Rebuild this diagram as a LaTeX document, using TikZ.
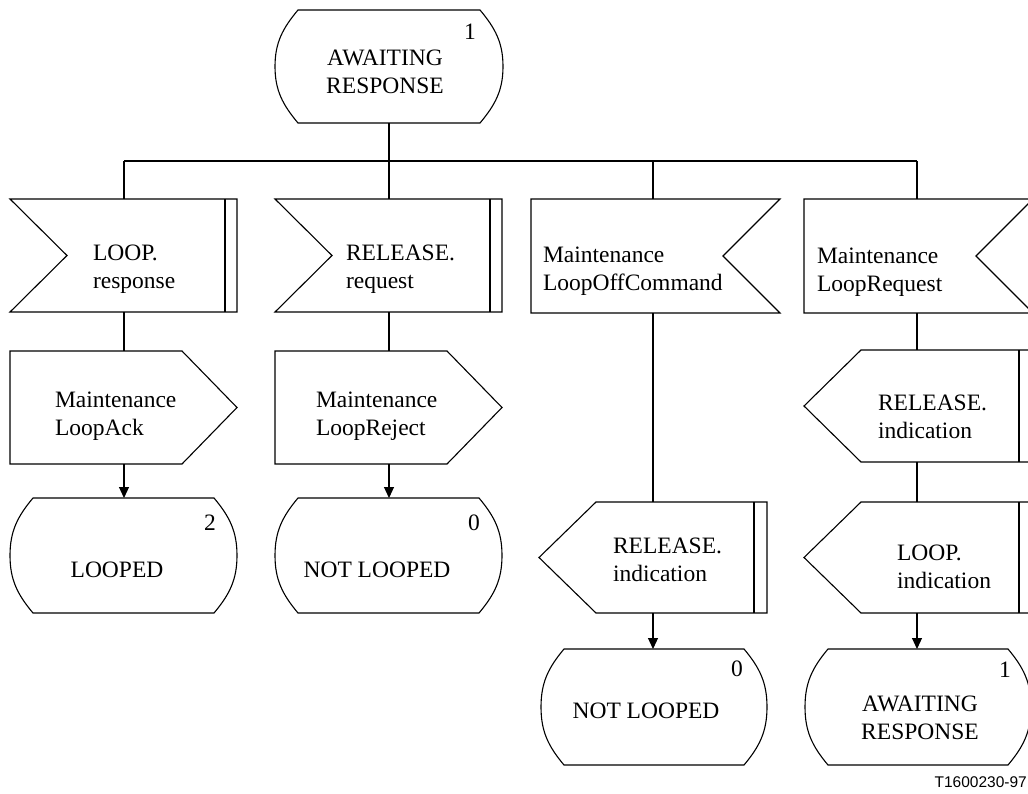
\documentclass[tikz,border=0pt]{standalone}
\usepackage{fontspec}
\setmainfont{Liberation Serif}
\newfontfamily\labelfont{Liberation Sans}
\usetikzlibrary{calc,fit,arrows.meta}

\newcommand\twol[2]{\begin{tabular}[t]{@{}l@{}}#1\\#2\end{tabular}}
\newcommand\twoc[2]{\begin{tabular}[t]{@{}c@{}}#1\\#2\end{tabular}}

\newcommand\shpState[1]{%
 \draw[shp] ($(#1.north west)+(23pt,0pt)$) -- ($(#1.north east)+(-23pt,0pt)$)
   to[out=-50,in=90] (#1.east) to[out=-90,in=50] ($(#1.south east)+(-23pt,0pt)$)
   -- ($(#1.south west)+(23pt,0pt)$) to[out=130,in=-90] (#1.west)
   to[out=90,in=-130] ($(#1.north west)+(23pt,0pt)$) -- cycle;}
\newcommand\shpInL[1]{%
 \draw[shp] (#1.north west) -- (#1.north east) -- (#1.south east) -- (#1.south west)
   -- ($(#1.west)+(57pt,0pt)$) -- cycle;
 \draw[shp] ($(#1.north east)+(-12pt,0pt)$) -- ($(#1.south east)+(-12pt,0pt)$);}
\newcommand\shpInR[1]{%
 \draw[shp] (#1.north west) -- (#1.north east) -- ($(#1.east)+(-57pt,0pt)$)
   -- (#1.south east) -- (#1.south west) -- cycle;}
\newcommand\shpOutR[1]{%
 \draw[shp] (#1.north west) -- ($(#1.north east)+(-55pt,0pt)$) -- (#1.east)
   -- ($(#1.south east)+(-55pt,0pt)$) -- (#1.south west) -- cycle;}
\newcommand\shpOutL[1]{%
 \draw[shp] (#1.west) -- ($(#1.north west)+(57pt,0pt)$) -- (#1.north east)
   -- (#1.south east) -- ($(#1.south west)+(57pt,0pt)$) -- cycle;
 \draw[shp] ($(#1.north east)+(-13pt,0pt)$) -- ($(#1.south east)+(-13pt,0pt)$);}

\begin{document}
\begin{tikzpicture}[x=1pt,y=-1pt,
  font=\fontsize{23.5}{28}\selectfont,
  box/.style={inner sep=0pt,outer sep=0pt,draw=none},
  shp/.style={line width=1.1pt,line join=miter},
  ln/.style={line width=1.1pt},
  arr/.style={line width=1.1pt,-{Triangle[length=11pt,width=10pt]}},
  txt/.style={inner sep=0pt,outer sep=0pt,anchor=base west},
  ctxt/.style={inner sep=0pt,outer sep=0pt,anchor=base}]
\useasboundingbox (0,0) rectangle (1028,793);
\fill[white] (0,0) rectangle (1028,793);
\begin{scope}
\clip (0,0) rectangle (1028,793);

% column axes
\coordinate (col1) at (124,0);
\coordinate (col2) at (389,0);
\coordinate (col3) at (653,0);
\coordinate (col4) at (917,0);
\coordinate (bus) at (0,161);

% shape frames
\node[box,fit={(275,10)(503,123)}] (st0) {};
\node[box,fit={(10,199)(237,312)}] (in1) {};
\node[box,fit={(10,351)(237,464)}] (out1) {};
\node[box,fit={(10,498)(237,613)}] (st1) {};
\node[box,fit={(275,199)(502,312)}] (in2) {};
\node[box,fit={(275,351)(502,464)}] (out2) {};
\node[box,fit={(275,498)(502,613)}] (st2) {};
\node[box,fit={(531,199)(780,313)}] (in3) {};
\node[box,fit={(539,502)(767,613)}] (out3) {};
\node[box,fit={(541,649)(767,765)}] (st3) {};
\node[box,fit={(804,199)(1033,313)}] (in4) {};
\node[box,fit={(804,350)(1032,462)}] (out4a) {};
\node[box,fit={(804,502)(1032,613)}] (out4b) {};
\node[box,fit={(805,649)(1031,765)}] (st4) {};

% outlines
\shpState{st0}
\shpInL{in1}
\shpOutR{out1}
\shpState{st1}
\shpInL{in2}
\shpOutR{out2}
\shpState{st2}
\shpInR{in3}
\shpOutL{out3}
\shpState{st3}
\shpInR{in4}
\shpOutL{out4a}
\shpOutL{out4b}
\shpState{st4}

% texts
\node[ctxt] (t0) at (385,65) {\twoc{AWAITING}{RESPONSE}};
\node[ctxt] (n0) at (470,39) {1};
\node[txt] (t1a) at (93,260) {\twol{LOOP.}{response}};
\node[txt] (t1b) at (55,407) {\twol{Maintenance}{LoopAck}};
\node[ctxt] (t1c) at (117,577) {LOOPED};
\node[ctxt] (n1) at (210,530) {2};
\node[txt] (t2a) at (346,260) {\twol{RELEASE.}{request}};
\node[txt] (t2b) at (316,407) {\twol{Maintenance}{LoopReject}};
\node[ctxt] (t2c) at (377,577) {NOT LOOPED};
\node[ctxt] (n2) at (474,530) {0};
\node[txt] (t3a) at (543,262) {\twol{Maintenance}{LoopOffCommand}};
\node[txt] (t3b) at (613,553) {\twol{RELEASE.}{indication}};
\node[ctxt] (t3c) at (646,718) {NOT LOOPED};
\node[ctxt] (n3) at (737,676) {0};
\node[txt] (t4a) at (817,263) {\twol{Maintenance}{LoopRequest}};
\node[txt] (t4b) at (878,410) {\twol{RELEASE.}{indication}};
\node[txt] (t4c) at (897,560) {\twol{LOOP.}{indication}};
\node[ctxt] (t4d) at (920,711) {\twoc{AWAITING}{RESPONSE}};
\node[ctxt] (n4) at (1005,677) {1};

% connectors
\draw[ln] (st0.south -| col2) -- (bus -| col2);
\draw[ln] (bus -| col1) -- (bus -| col4);
\draw[ln] (bus -| col1) -- (in1.north -| col1);
\draw[ln] (bus -| col2) -- (in2.north -| col2);
\draw[ln] (bus -| col3) -- (in3.north -| col3);
\draw[ln] (bus -| col4) -- (in4.north -| col4);
\draw[ln] (in1.south -| col1) -- (out1.north -| col1);
\draw[arr] (out1.south -| col1) -- (st1.north -| col1);
\draw[ln] (in2.south -| col2) -- (out2.north -| col2);
\draw[arr] (out2.south -| col2) -- (st2.north -| col2);
\draw[ln] (in3.south -| col3) -- (out3.north -| col3);
\draw[arr] (out3.south -| col3) -- (st3.north -| col3);
\draw[ln] (in4.south -| col4) -- (out4a.north -| col4);
\draw[ln] (out4a.south -| col4) -- (out4b.north -| col4);
\draw[arr] (out4b.south -| col4) -- (st4.north -| col4);
\end{scope}

\node[inner sep=0pt,anchor=base east,font=\labelfont\fontsize{15.5}{18}\selectfont] (lbl) at (1027,787) {T1600230-97};
\end{tikzpicture}
\end{document}
